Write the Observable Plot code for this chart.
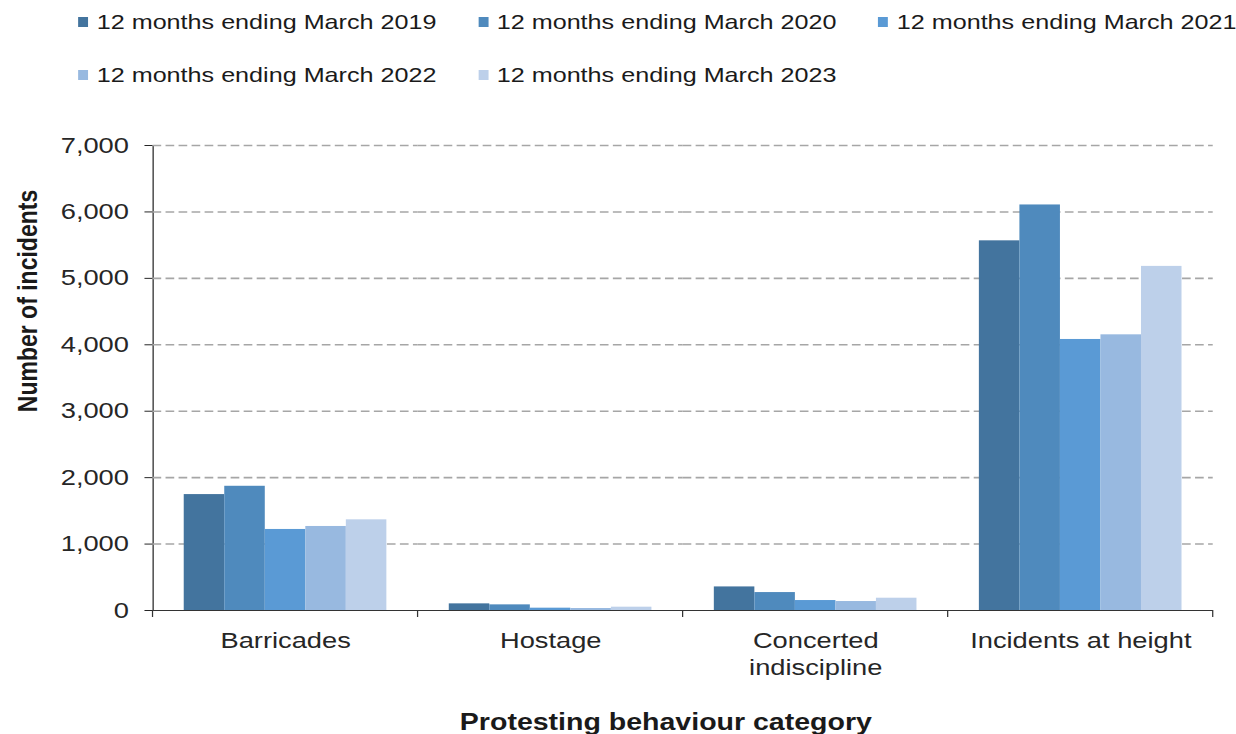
<!DOCTYPE html>
<html>
<head>
<meta charset="utf-8">
<script src="https://cdn.jsdelivr.net/npm/d3@7"></script>
<script src="https://cdn.jsdelivr.net/npm/@observablehq/plot@0.6"></script>
<style>
  html, body { margin: 0; padding: 0; background: #fff; overflow: hidden; }
  #wrap {
    position: relative; width: 997px; height: 734px;
    transform: scaleX(1.24); transform-origin: 0 0;
    font-family: "Liberation Sans", Arial, sans-serif; color: #1a1a1a;
  }
  #legend {
    position: absolute; left: 63px; top: 10px;
    display: grid; grid-template-columns: repeat(3, 322.6px);
    row-gap: 29px; font-size: 20.3px; line-height: 24px;
  }
  .item { display: flex; align-items: center; white-space: nowrap; }
  .sw { width: 8px; height: 10px; margin-right: 7px; flex: none; }
  #chart { position: absolute; left: 0; top: 100px; }
  #ytitle {
    position: absolute; left: 21.8px; top: 301px;
    transform: translate(-50%, -50%) rotate(-90deg);
    font-weight: bold; font-size: 23px; white-space: nowrap;
  }
  #xtitle {
    position: absolute; left: 537px; top: 722px;
    transform: translate(-50%, -50%);
    font-weight: bold; font-size: 23px; white-space: nowrap;
  }
</style>
</head>
<body>
<div id="wrap">
  <div id="legend"></div>
  <div id="chart"></div>
  <div id="ytitle">Number of incidents</div>
  <div id="xtitle">Protesting behaviour category</div>
</div>
<script>
// ---- Data ----
const categories = ["Barricades", "Hostage", "Concerted indiscipline", "Incidents at height"];
const categoryLabels = ["Barricades", "Hostage", "Concerted\nindiscipline", "Incidents at height"];
const series = [
  "12 months ending March 2019",
  "12 months ending March 2020",
  "12 months ending March 2021",
  "12 months ending March 2022",
  "12 months ending March 2023"
];
const values2019 = [1745, 100, 355, 5565];
const values2020 = [1870, 85, 270, 6105];
const values2021 = [1220, 35, 150, 4080];
const values2022 = [1265, 30, 135, 4150];
const values2023 = [1365, 50, 185, 5180];
const yTicks = [0, 1000, 2000, 3000, 4000, 5000, 6000, 7000];
const gridTicks = [1000, 2000, 3000, 4000, 5000, 6000, 7000];
const colors = ["#43749E", "#4F8ABD", "#5A9AD5", "#98B9E0", "#BDD0EA"];

const seriesValues = [values2019, values2020, values2021, values2022, values2023];
const data = series.flatMap((s, i) =>
  categories.map((c, j) => ({category: c, series: s, value: seriesValues[i][j]}))
);

// ---- Legend ----
const legend = document.getElementById("legend");
series.forEach((s, i) => {
  const item = document.createElement("div");
  item.className = "item";
  const sw = document.createElement("span");
  sw.className = "sw";
  sw.style.background = colors[i];
  const t = document.createElement("span");
  t.textContent = s;
  item.appendChild(sw);
  item.appendChild(t);
  legend.appendChild(item);
});

// ---- Chart ----
const chart = Plot.plot({
  width: 997,
  height: 634,
  marginTop: 45,
  marginBottom: 124,
  marginLeft: 123,
  marginRight: 19,
  style: {fontFamily: "'Liberation Sans', Arial, sans-serif", fontSize: "22px", color: "#262626", background: "white", overflow: "visible"},
  fx: {domain: categories, padding: 0, label: null, round: false},
  x: {domain: series, paddingInner: 0, paddingOuter: 0.77, axis: null, round: false},
  y: {domain: [0, 7000], ticks: yTicks, tickFormat: d3.format(","), tickSize: 6.5, tickPadding: 13, label: null, line: true},
  color: {domain: series, range: colors},
  marks: [
    Plot.gridY(gridTicks, {stroke: "#a6a6a6", strokeOpacity: 1, strokeWidth: 1.6, strokeDasharray: "7,3.5"}),
    Plot.barY(data, {fx: "category", x: "series", y: "value", fill: "series", inset: 0}),
    Plot.ruleY([0], {stroke: "#333"}),
    Plot.axisFx({
      anchor: "bottom", tickSize: 0, tickPadding: 18, lineHeight: 1.23, label: null,
      tickFormat: d => categoryLabels[categories.indexOf(d)]
    })
  ]
});
document.getElementById("chart").appendChild(chart);

// boundary tick marks on the category axis, positioned from the fx scale
const fxs = chart.scale("fx");
const ys = chart.scale("y");
const y0 = ys.apply(0);
const bounds = categories.map(c => fxs.apply(c));
bounds.push(fxs.apply(categories[categories.length - 1]) + fxs.bandwidth);
d3.select(chart).append("g")
  .attr("stroke", "#333")
  .selectAll("line").data(bounds).join("line")
  .attr("x1", d => d).attr("x2", d => d)
  .attr("y1", y0).attr("y2", y0 + 7);
</script>
</body>
</html>
